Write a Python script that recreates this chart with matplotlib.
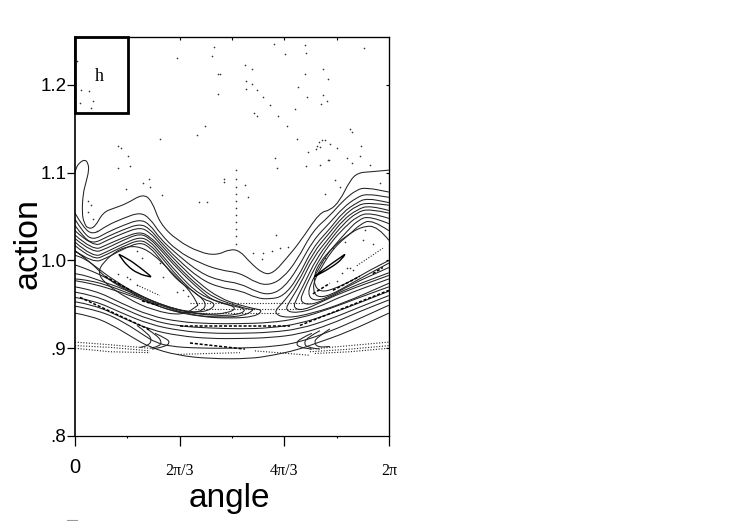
import numpy as np
import matplotlib
matplotlib.use("Agg")
import matplotlib.pyplot as plt
from matplotlib.lines import Line2D
from matplotlib.patches import Rectangle, PathPatch
from matplotlib.path import Path

# outermost contour
outer_x = [0,.02,.1,.2,.26,.28,.22,.16,.14,.18,.26,.4,.56,.8,1.04,1.36,1.54,1.7,2.04,2.5,2.84,3.1,3.3,3.5,3.76,3.96,4.24,4.5,4.9,5.1,5.3,5.5,5.66,5.9,6.28]
outer_y = [1.100,1.106,1.112,1.115,1.111,1.103,1.089,1.076,1.054,1.043,1.036,1.038,1.055,1.060,1.065,1.076,1.068,1.042,1.023,1.009,1.006,1.013,1.011,.998,.985,.985,1.003,1.021,1.055,1.057,1.068,1.091,1.100,1.101,1.103]

# contours that run right across
through_x = [0,.16,.36,.64,.96,1.3,1.5,1.7,2.04,2.5,2.9,3.3,3.64,3.9,4.16,4.44,4.76,5.1,5.36,5.64,5.84,6.28]
u1 = [1.054,1.038,1.029,1.040,1.048,1.055,1.048,1.031,1.011,.997,.989,.986,.974,.972,.980,1.000,1.034,1.051,1.068,1.081,1.083,1.078]
u2 = [1.047,1.032,1.023,1.032,1.040,1.047,1.041,1.025,1.007,.986,.977,.974,.964,.961,.968,.989,1.023,1.043,1.060,1.072,1.076,1.072]
u3 = [1.040,1.027,1.019,1.027,1.035,1.042,1.036,1.022,1.002,.979,.969,.966,.957,.956,.959,.978,1.015,1.036,1.055,1.066,1.071,1.066]

# lobes of the left island
l1_x = [0,.36,.64,.96,1.3,1.5,1.7,2.04,2.5,2.9,3.3,3.6,3.76,3.6,3.1,2.5,1.9,1.3,.7,.3,0]
l1_y = [1.034,1.015,1.023,1.031,1.038,1.032,1.019,.998,.973,.957,.949,.945,.943,.936,.934,.936,.943,.956,.968,.974,.977]
l2_x = [0,.36,.64,.96,1.3,1.5,1.7,2.04,2.5,2.8,3.2,3.5,3.6,3.4,2.9,2.3,1.7,1.1,.6,.2,0]
l2_y = [1.029,1.011,1.018,1.026,1.033,1.027,1.016,.994,.969,.957,.949,.944,.945,.937,.935,.938,.949,.962,.973,.978,.979]
l3_x = [0,.36,.64,.96,1.3,1.5,1.7,2.04,2.5,2.8,3.2,3.44,3.26,2.8,2.2,1.6,1.0,.5,.2,0]
l3_y = [1.025,1.008,1.014,1.023,1.031,1.025,1.013,.991,.966,.953,.948,.944,.938,.937,.941,.952,.967,.977,.983,.985]
l4_x = [0,.36,.64,.96,1.3,1.5,1.7,2.04,2.5,3.0,3.24,3.06,2.6,2.0,1.4,.86,.5,.2,0]
l4_y = [1.021,1.003,1.010,1.019,1.027,1.022,1.009,.986,.960,.951,.946,.940,.938,.944,.957,.973,.984,.991,.995]
l5_x = [0,.36,.64,.96,1.3,1.5,1.7,2.04,2.5,2.84,2.66,2.3,1.8,1.26,.74,.46,.2,0]
l5_y = [1.017,1.000,1.007,1.016,1.024,1.018,1.006,.982,.957,.951,.942,.941,.948,.961,.979,.991,1.002,1.006]
l6_x = [0,.36,.64,.96,1.3,1.5,1.7,2.04,2.5,2.64,2.5,2.1,1.6,1.1,.64,.4,.26,0]
l6_y = [1.011,.997,1.003,1.013,1.021,1.015,1.002,.977,.960,.949,.941,.940,.949,.964,.979,.993,1.0,1.011]
l7_x = [2.46,2.36,1.96,1.56,1.24,.9,.56,.46,.6,1.04,1.56,2.16,2.46]
l7_y = [.949,.962,.985,1.008,1.017,1.014,.998,.986,.974,.957,.943,.937,.949]

# lobes of the right island
r1_x = [6.28,5.9,5.64,5.36,5.1,4.76,4.44,4.16,3.96,4.24,4.76,5.36,6.28]
r1_y = [1.063,1.066,1.063,1.050,1.032,1.009,.972,.952,.940,.934,.940,.951,.974]
r2_x = [6.28,5.9,5.64,5.36,5.1,4.76,4.5,4.3,4.2,4.44,4.84,5.36,6.28]
r2_y = [1.057,1.063,1.058,1.046,1.027,1.003,.972,.954,.943,.940,.946,.960,.979]
r3_x = [6.28,5.9,5.64,5.36,5.1,4.82,4.6,4.44,4.36,4.56,4.9,5.36,6.28]
r3_y = [1.054,1.059,1.055,1.041,1.023,1.001,.975,.957,.946,.943,.952,.964,.983]
r4_x = [6.28,5.9,5.64,5.4,5.14,4.9,4.74,4.58,4.5,4.66,4.96,5.44,6.28]
r4_y = [1.048,1.055,1.050,1.038,1.022,1.002,.985,.966,.954,.949,.954,.968,.986]
r5_x = [6.28,5.9,5.66,5.44,5.22,5.02,4.86,4.72,4.66,4.76,5.04,5.5,6.28]
r5_y = [1.042,1.051,1.046,1.033,1.019,1.005,.989,.974,.962,.954,.957,.972,.992]
r6_x = [6.28,5.94,5.7,5.5,5.3,5.1,4.92,4.8,4.76,4.84,5.1,5.56,6.28]
r6_y = [1.034,1.047,1.041,1.030,1.021,1.008,.991,.979,.967,.958,.960,.975,.997]
r7_x = [6.28,6.06,5.74,5.4,5.14,4.9,4.78,4.8,4.94,5.2,5.54,5.9,6.28]
r7_y = [1.023,1.039,1.039,1.027,1.014,.998,.983,.970,.964,.968,.977,.989,1.0]

# lower contours
bottom_x = [0,.3,.7,1.16,1.5,2.04,2.7,3.5,3.96,4.44,4.84,5.44,6.28]
bottom_y = [.940,.937,.928,.912,.901,.892,.888,.888,.892,.898,.906,.918,.940]
low_x = [0,.4,.9,1.5,2.1,2.7,3.3,3.9,4.5,5.1,5.7,6.28]
c1 = [.970,.966,.952,.937,.930,.928,.928,.929,.934,.945,.958,.970]
c2 = [.964,.960,.947,.932,.925,.923,.922,.923,.928,.939,.952,.965]
c3 = [.958,.954,.941,.927,.920,.917,.917,.918,.922,.933,.947,.960]
c5 = [.953,.949,.936,.921,.914,.911,.911,.912,.916,.927,.942,.955]
c4_x = [0,.5,1.0,1.4,1.6,1.9,2.5,3.3,4.0,4.5,5.1,5.7,6.28]
c4_y = [.948,.943,.929,.914,.907,.902,.900,.900,.902,.907,.919,.934,.949]

hooks = [
    ([1.24,1.46,1.54,1.46,1.3], [.926,.917,.909,.903,.901]),
    ([1.44,1.66,1.74,1.66,1.5], [.922,.914,.906,.902,.900]),
    ([1.6,1.84,1.9,1.8,1.54], [.917,.911,.906,.902,.899]),
    ([4.74,4.5,4.42,4.5,4.74], [.917,.911,.905,.901,.899]),
    ([4.9,4.64,4.58,4.66,4.9], [.920,.912,.905,.901,.899]),
    ([5.1,4.86,4.78,4.86,5.1], [.922,.913,.907,.901,.902]),
]

# narrow closed islands
lens_l_x = [.88,1.06,1.3,1.52,1.52,1.26,1.04,.9,.88]
lens_l_y = [1.007,1.002,.992,.982,.981,.985,.994,1.005,1.007]
lens_r_x = [5.4,5.36,5.1,4.8,4.78,5.0,5.3,5.4]
lens_r_y = [1.007,1.002,.991,.982,.981,.991,1.003,1.007]

# dotted chaotic bands
bands = [
    ([0,.7,1.5], [.907,.904,.900]),
    ([0,.7,1.5], [.903,.901,.897]),
    ([0,.7,1.5], [.900,.896,.895]),
    ([4.7,5.5,6.28], [.899,.903,.907]),
    ([4.7,5.5,6.28], [.896,.899,.903]),
    ([4.8,5.5,6.28], [.894,.896,.900]),
    ([2.3,4.7], [.951,.951]),
    ([2.4,4.5], [.945,.945]),
    ([2.5,4.1], [.940,.940]),
    ([2.06,3.3], [.893,.895]),
    ([3.6,4.7], [.897,.892]),
    ([1.24,1.7], [.972,.960]),
    ([5.64,6.16], [.994,1.014]),
]
# broken heavy chains
chains = [
    ([.6,1.14], [.982,.965]),
    ([1.34,1.66], [.954,.949]),
    ([5.16,5.7], [.966,.982]),
    ([4.76,5.1], [.962,.974]),
    ([5.96,6.16], [.985,.992]),
    ([.1,1.5], [.958,.921]),
    ([2.1,4.3], [.925,.925]),
    ([2.3,3.4], [.906,.899]),
    ([4.5,6.28], [.926,.966]),
]

dots_x = [.04,2.04,2.78,2.74,3.98,4.2,4.6,4.62,5.78,3.4,3.54,2.86,2.9,4.6,4.96,5.06,3.42,3.54,3.42,3.64,4.46,2.86,3.76,4.64,4.96,5.04,4.92,3.9,4.4,3.58,3.64,4.06,.12,.28,.36,.1,.32,2.6,2.44,1.7,4.24,4.44,5.5,5.54,4.94,5.0,4.88,5.1,4.84,4.9,4.82,5.24,4.66,5.72,5.7,5.44,4.0,5.08,.86,.92,1.06,1.1,.86,1.36,1.48,1.5,1.02,1.74,2.48,2.64,2.98,2.98,.26,.32,.26,.36,.44,4.62,4.9,5.06,5.9,4.04,5.54,5.2,5.3,5.0,6.1,3.4,3.46,4.02,3.76,3.94,4.1,3.56,3.74,4.26,5.8,5.4,5.76,5.96,5.16,5.44,5.56,5.5,5.34,5.24,4.94,5.0,1.24,1.34,1.7,1.76,1.04,.86,1.1,1.24,2.16,2.26,2.04]
dots_y = [1.227,1.231,1.243,1.233,1.247,1.235,1.246,1.236,1.242,1.223,1.218,1.213,1.213,1.212,1.218,1.207,1.205,1.201,1.195,1.194,1.198,1.190,1.186,1.186,1.189,1.182,1.178,1.177,1.173,1.168,1.165,1.165,1.194,1.193,1.182,1.180,1.174,1.153,1.143,1.138,1.153,1.139,1.150,1.147,1.137,1.137,1.135,1.133,1.131,1.129,1.127,1.128,1.124,1.131,1.119,1.117,1.117,1.115,1.131,1.128,1.119,1.108,1.105,1.088,1.093,1.084,1.081,1.075,1.067,1.067,1.093,1.089,1.068,1.063,1.055,1.047,1.034,1.108,1.109,1.114,1.109,1.105,1.111,1.092,1.084,1.076,1.088,1.086,1.072,1.029,1.009,1.011,1.014,1.008,1.002,1.015,1.035,1.021,1.023,1.019,1.014,.992,.989,.992,.986,.977,.998,1.003,1.011,1.003,.997,.981,.981,.985,.979,.972,.966,.960,.964]
column_y = [1.103,1.093,1.084,1.076,1.068,1.060,1.052,1.044,1.036,1.028,1.019]
column_x = [3.22] * len(column_y)

tick_names = ['0', '2π/3', '4π/3', '2π']


def smooth(ax, xs, ys, lw=0.75, color='#222222'):
    # read points act as quadratic control points, curve passes through midpoints
    pts = [(xs[0], ys[0])]
    codes = [Path.MOVETO]
    for i in range(1, len(xs) - 1):
        pts.append((xs[i], ys[i]))
        pts.append(((xs[i] + xs[i+1]) / 2, (ys[i] + ys[i+1]) / 2))
        codes += [Path.CURVE3, Path.CURVE3]
    pts.append((xs[-1], ys[-1]))
    codes.append(Path.LINETO)
    ax.add_patch(PathPatch(Path(pts, codes), fill=False, edgecolor=color, lw=lw))


fig = plt.figure(figsize=(7.47, 5.21), dpi=100)
ax = fig.add_axes([75/747, 85/521, 314/747, 399/521])
ax.set_xlim(0, 2*np.pi)
ax.set_ylim(.8, 1.2547)

contours = [(outer_x, outer_y), (through_x, u1), (through_x, u2), (through_x, u3),
            (l1_x, l1_y), (l2_x, l2_y), (l3_x, l3_y), (l4_x, l4_y), (l5_x, l5_y), (l6_x, l6_y), (l7_x, l7_y),
            (r1_x, r1_y), (r2_x, r2_y), (r3_x, r3_y), (r4_x, r4_y), (r5_x, r5_y), (r6_x, r6_y), (r7_x, r7_y),
            (bottom_x, bottom_y), (low_x, c1), (low_x, c2), (low_x, c3), (low_x, c5), (c4_x, c4_y)] + hooks
for cx, cy in contours:
    smooth(ax, cx, cy)

smooth(ax, lens_l_x, lens_l_y, lw=1.0, color='k')
smooth(ax, lens_r_x, lens_r_y, lw=1.0, color='k')

for bx, by in bands:
    ax.plot(bx, by, color='#222222', lw=0.8, ls=(0, (1, 1.5)))
for bx, by in chains:
    ax.plot(bx, by, color='k', lw=1.1, ls=(0, (2, 1.2)))

ax.scatter(dots_x, dots_y, s=1.4, color='#333333', linewidths=0)
ax.scatter(column_x, column_y, s=1.4, color='#333333', linewidths=0)

# label box
ax.add_patch(Rectangle((0, 1.1676), 1.06, .0871, fill=False, edgecolor='k', lw=2, zorder=5, clip_on=False))
ax.text(.48, 1.2095, 'h', family='Liberation Serif', fontsize=13, ha='center', va='center')

ax.set_xticks([0, 2*np.pi/3, 4*np.pi/3, 2*np.pi])
ax.set_xticklabels(tick_names)
ax.set_xticks([np.pi/3, np.pi, 5*np.pi/3], minor=True)
ax.set_yticks([.8, .9, 1.0, 1.1, 1.2])
ax.set_yticklabels(['.8', '.9', '1.0', '1.1', '1.2'], family='Liberation Sans', fontsize=13.5)
ax.tick_params(axis='x', which='major', length=7.5, width=0.9, pad=12)
ax.tick_params(axis='x', which='minor', length=1.5, width=0.8)
ax.tick_params(axis='y', which='major', length=5.8, width=0.9, pad=0.5)
for lab in ax.get_xticklabels():
    lab.set_family('Liberation Serif')
    lab.set_fontsize(11.5)
ax.get_xticklabels()[0].set_family('Liberation Sans')
ax.get_xticklabels()[0].set_fontsize(14.5)
ax.xaxis.get_major_ticks()[0].set_pad(8)
for s in ['top', 'right', 'bottom']:
    ax.spines[s].set_linewidth(0.9)
ax.spines['left'].set_linewidth(1.2)

# short inward ticks on the far sides
top = ax.secondary_xaxis('top')
top.set_xticks([2*np.pi/3, np.pi, 4*np.pi/3, 5*np.pi/3])
top.set_xticklabels([])
top.tick_params(direction='in', length=2, width=0.8)
right = ax.secondary_yaxis('right')
right.set_yticks([.9, 1.0, 1.1, 1.2])
right.set_yticklabels([])
right.tick_params(direction='in', length=2, width=0.8)

fig.text(229/747, 1-499/521, 'angle', family='Liberation Sans', fontsize=24, ha='center', va='center')
fig.text(28/747, 1-243/521, 'action', family='Liberation Sans', fontsize=24.5, rotation=90, ha='center', va='center')

fig.add_artist(Line2D([67/747, 77/747], [1/521, 1/521], color='#999999', lw=0.8))

fig.savefig('out.png', dpi=100)
